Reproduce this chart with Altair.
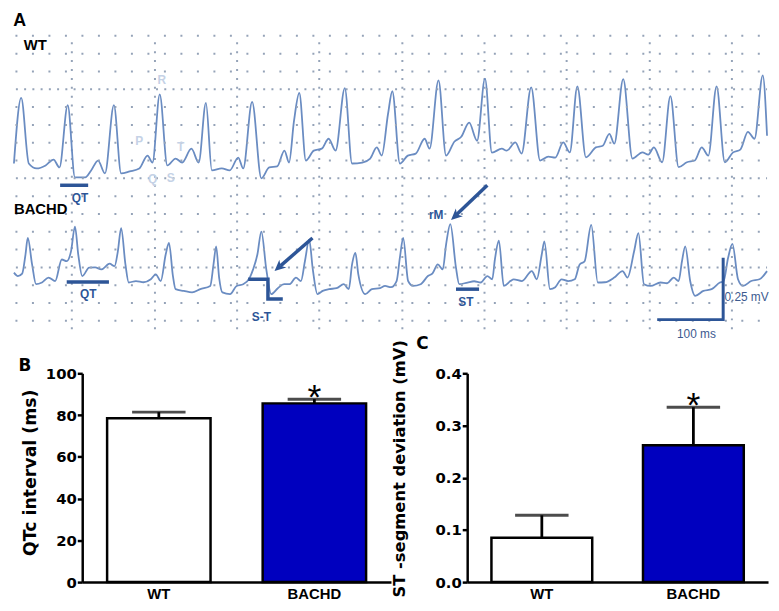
import altair as alt
import pandas as pd

WT_TRACE = [(0,668),(11,933),(22.5,668),(34.5,648),(48,660),(60,684),(69,652),(81.5,904),(92.5,612),
            (108,612),(117,640),(127.5,680),(138,628),(151.5,904),(162.5,628),(175.5,636),(190,648),
            (202.5,700),(210,672),(221,947),(232.5,660),(245,688),(255,672),(269,728),(280,672),
            (291,913),(300,640),(315,648),(327,640),(340,692),(347.5,648),(361,917),(375,608),(387,652),
            (399,656),(410,720),(417,672),(424.5,840),(432.5,953),(442.5,680),(454.5,720),(466.5,728),
            (477,768),(487.5,720),(501.5,973),(512.5,668),(528,672),(540,688),(550,733),(557.5,700),
            (567,868),(573.5,960),(585,668),(597,700),(609,708),(622.5,768),(630,728),(643.5,1004),
            (655,700),(667.5,756),(678,776),(690,833),(702,760),(714,1011),(724.5,712),(739.5,728),
            (747,720),(760,753),(769.5,708),(784,976),(797.5,680),(810,696),(820.5,692),(832.5,753),
            (842.5,713),(854,980),(867,693),(882,733),(892.5,740),(902.5,788),(910,748),(923.5,1009),
            (937.5,688),(952.5,713),(961.5,704),(970,733),(982.5,673),(995,940),(1007.5,653),(1020,673),
            (1032,680),(1042.5,733),(1052.5,700),(1065,980),(1077.5,673),(1090,713),(1101,724),
            (1112.5,796),(1122.5,768),(1135,1024),(1141.5,780)]

BACHD_TRACE = [(0,227),(6,213),(12.5,223),(17.5,300),(21,367),(27.5,260),(33.5,180),(42.5,187),(52.5,207),
               (62.5,193),(72.5,280),(80,273),(86.5,313),(92.5,413),(97.5,300),(103.5,213),(114,247),
               (123,248),(132.5,240),(145,263),(152.5,253),(157.5,313),(162.5,407),(169,260),(174,187),
               (185,193),(196.5,188),(207.5,200),(215,220),(222.5,193),(230,300),(235,347),(241,213),
               (245,160),(257.5,153),(270,147),(282.5,160),(297.5,173),(302.5,260),(306.5,333),(311,207),
               (316,147),(327.5,140),(337.5,173),(347.5,180),(357.5,207),(362.5,240),(369,300),(375,393),
               (382.5,240),(390,140),(400,164),(409.5,180),(417.5,180),(427.5,207),(435,193),(441,272),
               (447.5,360),(453,240),(460,140),(468,153),(477.5,160),(489,164),(500,180),(507.5,160),
               (512.5,260),(517.5,307),(522,220),(532.5,140),(542.5,160),(555,164),(562.5,173),(571.5,168),
               (580,193),(585,288),(590,367),(597.5,193),(605,173),(616.5,180),(627.5,213),(634.5,224),
               (642.5,260),(650,240),(655,340),(661.5,423),(670,247),(675,180),(687.5,187),(697.5,192),
               (707.5,187),(717.5,213),(725,200),(729,280),(735,356),(742.5,173),(752.5,193),(757.5,200),
               (770,193),(785,233),(792.5,200),(800,300),(804,353),(812.5,160),(820.5,168),(830,200),
               (840,193),(850,200),(857.5,260),(865,273),(875,420),(885,187),(895.5,188),(910,207),
               (922.5,233),(930,207),(940,313),(946.5,387),(955,180),(965,173),(980,187),(990,184),
               (1000,207),(1007.5,193),(1012.5,272),(1017.5,333),(1025,193),(1032.5,133),(1045,153),
               (1057.5,160),(1070,187),(1075.5,192),(1082.5,287),(1089,343),(1097.5,200),(1105,173),
               (1117.5,193),(1130,200),(1141.5,233)]

# ECG paper grid (ms / µV)
COL_MAJOR = [87.5, 212.5, 337.5, 462.5, 587.5, 712.5, 837.5, 962.5, 1087.5]
ROWS_MINOR = [32, 104, 176, 320, 392, 464, 536, 680, 752, 824, 896, 1040, 1112, 1184]
ROWS_MAJOR = [248, 608, 968]

# annotation segments (ms, µV)
ANNOT_SEGS = {
    "QT_WT": [(70, 580), (112.5, 580)],
    "QT_BACHD": [(80, 189), (144, 189)],
    "ST_bar": [(670, 160), (705, 160)],
    "ST_step": [(355, 200), (385, 200), (385, 120), (407.5, 120)],
    "arrow_ST": [(452.5, 367), (404, 254)],
    "arrow_rM": [(717.5, 580), (671, 462)],
}
SCALE_BAR = [(975, 37), (1075, 37), (1075, 287)]
ARROW_TIPS = [(395, 233), (662.5, 440)]

LABELS_GROUP = [("WT", 15, 1148), ("BACHD", 0, 484)]
LABELS_ANNOT = [("QT", 100, 527), ("QT", 112.5, 140), ("S-T", 375, 47), ("ST", 685, 107), ("rM", 640, 460)]
LABELS_SCALE = [("0.25 mV", 1077, 127), ("100 ms", 1005, -20)]
LABELS_FAINT = [("R", 224, 1007), ("P", 190, 760), ("T", 252.5, 733), ("Q", 210, 607), ("S", 237.5, 611)]

# ---------------- Panels B and C ----------------
GROUPS = ["WT", "BACHD"]
QTC_MEAN = [78.5, 85.6]
QTC_SEM = [2.9, 2.0]
ST_MEAN = [0.085, 0.262]
ST_SEM = [0.043, 0.073]
SIG = ["", "*"]
QTC_TICKS = [0, 20, 40, 60, 80, 100]
ST_TICKS = [0.0, 0.1, 0.2, 0.3, 0.4]
BAR_COLORS = ["#FFFFFF", "#0000BF"]

TRACE_COLOR = "#6a8cc2"
ANNOT_COLOR = "#2d5597"
GRID_COLOR = "#95a3b8"

# ---------- build panel A ----------
rows = []
for name, pts in (("WT", WT_TRACE), ("BACHD", BACHD_TRACE)):
    for i, (t, v) in enumerate(pts):
        rows.append({"trace": name, "t": t, "v": v, "order": i})
trace_df = pd.DataFrame(rows)

seg_rows = []
for name, pts in ANNOT_SEGS.items():
    for i, (t, v) in enumerate(pts):
        seg_rows.append({"seg": name, "t": t, "v": v, "order": i})
seg_df = pd.DataFrame(seg_rows)
scale_df = pd.DataFrame([{"t": t, "v": v, "order": i} for i, (t, v) in enumerate(SCALE_BAR)])
tips_df = pd.DataFrame([{"t": t, "v": v} for t, v in ARROW_TIPS])

def lab_df(items):
    return pd.DataFrame([{"label": l, "t": t, "v": v} for l, t, v in items])

xA = alt.X("t:Q", scale=alt.Scale(domain=[0, 1141.5], nice=False, zero=False),
           axis=alt.Axis(title=None, labels=False, ticks=False, domain=False, grid=True,
                         values=COL_MAJOR, gridColor=GRID_COLOR, gridWidth=2,
                         gridDash=[2, 7], gridDashOffset=2))
yscaleA = alt.Scale(domain=[0, 1188], nice=False, zero=False)

# dotted horizontal rows of the ECG paper
minor_rows = alt.Chart(pd.DataFrame({"v": ROWS_MINOR})).mark_rule(
    color=GRID_COLOR, strokeWidth=2, strokeDash=[2, 14.67], strokeDashOffset=9.34).encode(
    y=alt.Y("v:Q", scale=yscaleA, axis=None))
major_rows = alt.Chart(pd.DataFrame({"v": ROWS_MAJOR})).mark_rule(
    color=GRID_COLOR, strokeWidth=2, strokeDash=[2, 6.33], strokeDashOffset=1.0).encode(
    y=alt.Y("v:Q", scale=yscaleA, axis=None))

traces = alt.Chart(trace_df).mark_line(color=TRACE_COLOR, strokeWidth=1.8, interpolate="monotone").encode(
    x=xA, y=alt.Y("v:Q", scale=yscaleA, axis=None), detail="trace:N", order="order:Q")
segs = alt.Chart(seg_df).mark_line(color=ANNOT_COLOR, strokeWidth=3.5, strokeCap="butt", strokeJoin="miter").encode(
    x="t:Q", y="v:Q", detail="seg:N", order="order:Q")
scalebar = alt.Chart(scale_df).mark_line(color=ANNOT_COLOR, strokeWidth=3, strokeJoin="miter").encode(
    x="t:Q", y="v:Q", order="order:Q")
heads = alt.Chart(tips_df).mark_point(shape="M0,0L0.75,1.6L0,1.15L-0.75,1.6Z", filled=True, opacity=1,
                                      color=ANNOT_COLOR, size=200, angle=228).encode(x="t:Q", y="v:Q")
t_group = alt.Chart(lab_df(LABELS_GROUP)).mark_text(font="Liberation Sans", fontWeight="bold", fontSize=15,
                                                    color="black", align="left", baseline="middle").encode(
    x="t:Q", y="v:Q", text="label:N")
t_annot = alt.Chart(lab_df(LABELS_ANNOT)).mark_text(font="Liberation Sans", fontWeight="bold", fontSize=12,
                                                    color=ANNOT_COLOR, align="center", baseline="middle").encode(
    x="t:Q", y="v:Q", text="label:N")
t_scale = alt.Chart(lab_df(LABELS_SCALE)).mark_text(font="Liberation Sans", fontSize=12,
                                                    color="#3c5a8f", align="left", baseline="middle").encode(
    x="t:Q", y="v:Q", text="label:N")
t_faint = alt.Chart(lab_df(LABELS_FAINT)).mark_text(font="Liberation Sans", fontWeight="bold", fontSize=12,
                                                    color="#c5d2e6", align="center", baseline="middle").encode(
    x="t:Q", y="v:Q", text="label:N")

panel_a = alt.layer(traces, minor_rows, major_rows, segs, scalebar, heads, t_group, t_annot, t_scale,
                    t_faint).properties(
    width=761, height=297,
    title=alt.TitleParams("A", anchor="start", font="Liberation Sans", fontSize=18, fontWeight="bold",
                          color="black", offset=5, dx=3))

# ---------- build panels B and C ----------
def bar_panel(mean, sem, ticks, ymax, ytitle, fmt, label, width, title_pad, title_y, title_size,
              lab_dx, lab_offset, lab_lh):
    df = pd.DataFrame({"group": GROUPS, "mean": mean,
                       "upper": [m + s for m, s in zip(mean, sem)], "sig": SIG})
    x = alt.X("group:N", sort=GROUPS,
              scale=alt.Scale(domain=GROUPS, paddingInner=0.335, paddingOuter=0.16),
              axis=alt.Axis(title=None, labelAngle=0, labelFont="Liberation Sans", labelFontWeight="bold",
                            labelFontSize=15, labelColor="black", ticks=False, tickSize=0, labelPadding=5,
                            domainColor="black", domainWidth=2.5))
    yscale = alt.Scale(domain=[0, ymax], nice=False)
    yaxis = alt.Axis(values=ticks, format=fmt, grid=False, labelFont="DejaVu Sans", labelFontWeight="bold",
                     labelFontSize=15, labelColor="black", labelPadding=1, tickColor="black", tickWidth=2.5,
                     tickSize=5, domainColor="black", domainWidth=2.5, titleFont="DejaVu Sans",
                     titleFontWeight="bold", titleFontSize=title_size, titleColor="black",
                     titlePadding=title_pad, titleY=title_y)
    base = alt.Chart(df).encode(x=x)
    bars = base.mark_bar(stroke="black", strokeWidth=2.5).encode(
        y=alt.Y("mean:Q", scale=yscale, axis=yaxis, title=ytitle),
        color=alt.Color("group:N", scale=alt.Scale(domain=GROUPS, range=BAR_COLORS), legend=None))
    err = base.mark_rule(color="black", strokeWidth=2.8).encode(
        y=alt.Y("mean:Q", title=ytitle), y2="upper:Q")
    cap = base.mark_tick(color="black", thickness=3, size=54, orient="horizontal").encode(
        y=alt.Y("upper:Q", title=ytitle))
    star = base.transform_filter("datum.sig != ''").mark_text(
        font="Liberation Sans", fontSize=36, color="black", baseline="alphabetic", dy=10).encode(
        y=alt.Y("upper:Q", title=ytitle), text="sig:N")
    return alt.layer(bars, err, cap, star).properties(
        width=width, height=211,
        title=alt.TitleParams(label, anchor="start", font="DejaVu Sans", fontSize=17, fontWeight="bold",
                              color="black", baseline="bottom", lineHeight=lab_lh, offset=lab_offset,
                              dx=lab_dx))

panel_b = bar_panel(QTC_MEAN, QTC_SEM, QTC_TICKS, 100, "QTc interval (ms)", "d", ["", "B"], 312,
                    6, 100, 17.5, -3, -25.6, 16)
panel_c = bar_panel(ST_MEAN, ST_SEM, ST_TICKS, 0.4, "ST -segment deviation (mV)", ".1f", "C", 304,
                    28, 96, 16.5, 25, -30.6, 16)

# narrow empty column so that panel B's axis title starts just right of panel A's left edge
spacer = alt.Chart(pd.DataFrame({"s": [0]})).mark_point(opacity=0).encode(
    x=alt.X("s:Q", axis=None), y=alt.Y("s:Q", axis=None)).properties(width=1, height=211)

chart = alt.vconcat(
    panel_a,
    alt.hconcat(spacer, panel_b, panel_c, spacing=0),
    spacing=-5,
).properties(padding={"left": 2, "top": 0, "right": 0, "bottom": 0}).configure_view(strokeWidth=0)

chart.save("out.html", embed_options={"renderer": "svg", "actions": False})
